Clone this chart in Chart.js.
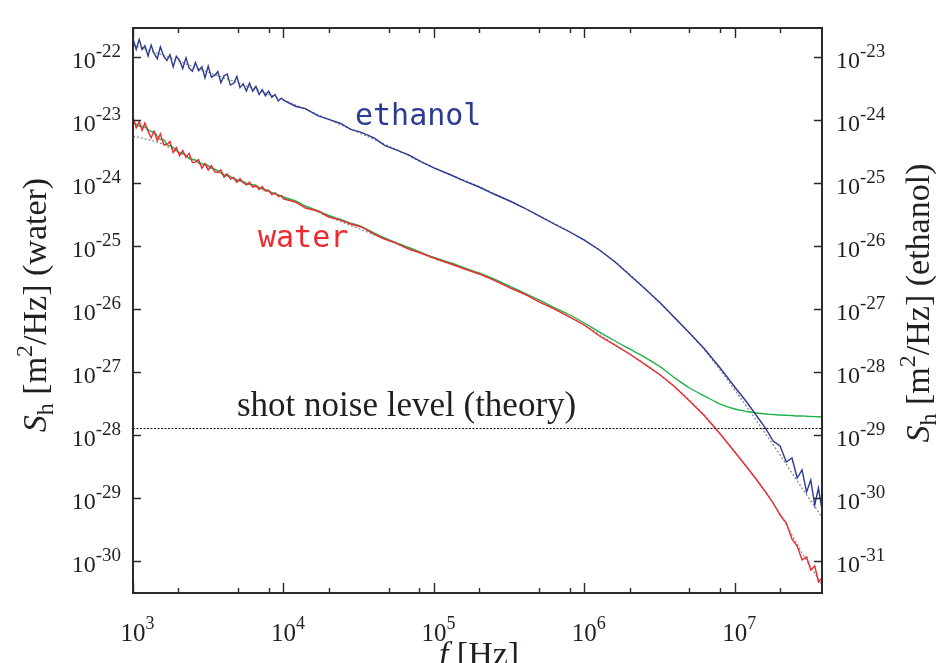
<!DOCTYPE html>
<html><head><meta charset="utf-8">
<script src="https://cdn.jsdelivr.net/npm/chart.js@4.4.1/dist/chart.umd.min.js"></script>
<style>html,body{margin:0;padding:0;background:#fff}#c{display:block}</style>
</head><body>
<canvas id="c" width="940" height="663"></canvas>
<script>
// ---- data (frequency in Hz, spectral density in m^2/Hz) ----
// measured spectra (ethanol, water red)
const freq = [1000,1050,1100,1150,1200,1260,1320,1380,1450,1520,1600,1680,1760,1850,1940,2040,2140,2250,2360,2480,2600,2730,2870,3010,3160,3320,3490,3660,3840,4030,4230,4440,4670,4900,5140,5400,5670,5950,6250,6560,6890,7230,7590,7970,8370,8790,9230,9690,
  1e4,1.2e4,1.4e4,1.7e4,2e4,2.4e4,2.8e4,3.3e4,4e4,4.7e4,5.6e4,6.8e4,8.2e4,
  1e5,1.3e5,1.6e5,2e5,2.5e5,3.2e5,4e5,5e5,6.3e5,8e5,
  1e6,1.26e6,1.6e6,2e6,2.5e6,3.2e6,4e6,5e6,6.3e6,8e6,
  1e7,1.2e7,1.4e7,1.6e7,1.8e7,2e7,2.2e7,2.4e7,2.6e7,2.8e7,3e7,3.2e7,3.4e7,3.6e7,3.8e7];

// ethanol (right axis)
const ethanol = [1.95e-23,1.34e-23,1.92e-23,1.33e-23,1.52e-23,1.05e-23,1.56e-23,1.15e-23,9.50e-24,1.46e-23,1.04e-23,8.90e-24,1.10e-23,7.04e-24,1.04e-23,8.96e-24,6.64e-24,9.82e-24,6.79e-24,6.02e-24,8.30e-24,6.15e-24,7.07e-24,4.71e-24,7.25e-24,4.83e-24,5.16e-24,5.95e-24,3.96e-24,5.09e-24,5.43e-24,3.62e-24,3.86e-24,4.95e-24,3.30e-24,3.79e-24,2.92e-24,3.89e-24,2.88e-24,3.45e-24,2.56e-24,3.06e-24,2.44e-24,2.90e-24,2.31e-24,2.56e-24,2.03e-24,2.25e-24,
  2.09e-24,1.67e-24,1.53e-24,1.17e-24,1.03e-24,8.88e-25,7.18e-25,6.42e-25,5.25e-25,4.00e-25,3.39e-25,2.82e-25,2.20e-25,
  1.75e-25,1.35e-25,1.08e-25,8.71e-26,6.74e-26,5.22e-26,4.04e-26,3.02e-26,2.25e-26,1.68e-26,
  1.25e-26,8.70e-27,5.61e-27,3.49e-27,2.17e-27,1.25e-27,7.23e-28,4.18e-28,2.33e-28,1.16e-28,
  5.80e-29,3.35e-29,2.01e-29,1.29e-29,8.04e-30,6.70e-30,3.73e-30,4.32e-30,2.08e-30,2.79e-30,1.25e-30,1.93e-30,7.75e-31,1.44e-30,6.45e-31];

// water, red (left axis)
const water = [1.13e-23,7.56e-24,9.52e-24,6.93e-24,9.08e-24,6.65e-24,5.28e-24,6.73e-24,4.75e-24,6.05e-24,4.12e-24,4.12e-24,4.60e-24,3.06e-24,3.68e-24,2.74e-24,3.30e-24,2.56e-24,2.98e-24,2.14e-24,2.16e-24,2.36e-24,1.73e-24,2.05e-24,1.62e-24,1.91e-24,1.51e-24,1.48e-24,1.63e-24,1.24e-24,1.41e-24,1.16e-24,1.24e-24,1.03e-24,1.18e-24,1.02e-24,9.40e-25,1.04e-24,8.65e-25,9.27e-25,7.95e-25,8.84e-25,7.52e-25,7.72e-25,6.60e-25,7.02e-25,6.22e-25,6.38e-25,
  5.62e-25,5.03e-25,4.04e-25,3.62e-25,2.91e-25,2.60e-25,2.25e-25,2.02e-25,1.56e-25,1.30e-25,1.12e-25,9.02e-26,7.79e-26,
  6.49e-26,5.21e-26,4.34e-26,3.62e-26,2.90e-26,2.17e-26,1.74e-26,1.30e-26,1.01e-26,7.50e-27,
  5.60e-27,3.74e-27,2.69e-27,1.94e-27,1.35e-27,8.99e-28,5.80e-28,3.47e-28,2.01e-28,1.04e-28,
  5.38e-29,3.11e-29,1.93e-29,1.25e-29,8.33e-30,5.37e-30,4.01e-30,2.23e-30,1.73e-30,1.04e-30,1.16e-30,7.19e-31,8.32e-31,4.63e-31,5.37e-31];

// water, green (left axis)
const freqGreen = [1000,1100,1200,1300,1400,1500,1600,1700,1800,2000,2200,2400,2600,2800,3000,3300,3600,4000,4400,4800,5300,5800,6400,7000,7700,8500,9300,
  1e4,1.2e4,1.4e4,1.7e4,2e4,2.4e4,2.8e4,3.3e4,4e4,4.7e4,5.6e4,6.8e4,8.2e4,
  1e5,1.3e5,1.6e5,2e5,2.5e5,3.2e5,4e5,5e5,6.3e5,8e5,
  1e6,1.26e6,1.6e6,2e6,2.5e6,3.2e6,4e6,5e6,6.3e6,8e6,
  1e7,1.2e7,1.4e7,1.6e7,1.8e7,2e7,2.2e7,2.4e7,2.6e7,2.8e7,3e7,3.2e7,3.4e7,3.6e7,3.8e7];
const waterGreen = [9.38e-24,8.11e-24,7.82e-24,6.75e-24,6.28e-24,5.04e-24,4.86e-24,4.05e-24,3.90e-24,3.13e-24,2.91e-24,2.42e-24,2.34e-24,2.02e-24,2.02e-24,1.75e-24,1.62e-24,1.35e-24,1.30e-24,1.12e-24,1.08e-24,9.72e-25,9.37e-25,8.40e-25,7.80e-25,7.00e-25,6.50e-25,
  6.04e-25,5.22e-25,4.35e-25,3.62e-25,3.07e-25,2.65e-25,2.33e-25,2.05e-25,1.62e-25,1.35e-25,1.14e-25,9.53e-26,7.94e-26,
  6.61e-26,5.40e-26,4.50e-26,3.75e-26,3.01e-26,2.29e-26,1.80e-26,1.40e-26,1.06e-26,8.07e-27,
  6.02e-27,4.33e-27,3.12e-27,2.33e-27,1.74e-27,1.21e-27,8.06e-28,5.59e-28,4.17e-28,3.11e-28,
  2.59e-28,2.37e-28,2.24e-28,2.16e-28,2.12e-28,2.08e-28,2.06e-28,2.04e-28,2.01e-28,2.01e-28,1.99e-28,1.97e-28,1.96e-28,1.95e-28,1.94e-28];

// fitted curves (gray dotted)
const fitFreq = [1e3,1.5e3,2e3,3e3,5e3,1e4,2e4,5e4,1e5,2e5,5e5,1e6,1.6e6,2.5e6,4e6,6.3e6,1e7,1.4e7,2e7,2.8e7,3.8e7];
const ethanolFit = [1.57e-23,1.13e-23,8.73e-24,6.06e-24,3.91e-24,2.10e-24,1.03e-24,3.90e-25,1.76e-25,8.81e-26,3.04e-26,1.25e-26,5.67e-27,2.17e-27,7.23e-28,2.24e-28,5.20e-29,1.67e-29,4.82e-30,1.44e-30,4.99e-31];
const waterFit = [5.62e-24,4.35e-24,3.13e-24,1.95e-24,1.12e-24,5.95e-25,2.96e-25,1.23e-25,6.39e-26,3.64e-26,1.32e-26,5.56e-27,2.69e-27,1.36e-27,5.80e-28,2.04e-28,5.38e-29,1.93e-29,5.58e-30,1.34e-30,4.15e-31];

const shotNoise = 1.27e-28;

const xRange = [1e3, 3.8e7];
const yLeftRange = [3.1e-31, 2.92e-22];
const yRightRange = [3.1e-32, 2.92e-23];

const xTickExps = [3,4,5,6,7];
const xMinorMult = [2,5,8];
const leftTickExps = [-22,-23,-24,-25,-26,-27,-28,-29,-30];
const rightTickExps = [-23,-24,-25,-26,-27,-28,-29,-30,-31];

// ---- drawing ----
const SERIF = '"Liberation Serif","Times New Roman","DejaVu Serif",serif';
const pts = (xs, ys) => xs.map((x, i) => ({x, y: ys[i]}));

function fontOf(p){ return (p.italic ? 'italic ' : '') + p.size + 'px ' + SERIF; }
function drawRich(ctx, parts, x, y, align){
  let w = 0;
  for (const p of parts){ ctx.font = fontOf(p); p._w = ctx.measureText(p.t).width; w += p._w; }
  let cx = align === 'center' ? x - w/2 : (align === 'right' ? x - w : x);
  ctx.textAlign = 'left'; ctx.textBaseline = 'alphabetic';
  for (const p of parts){ ctx.font = fontOf(p); ctx.fillText(p.t, cx, y + (p.dy||0)); cx += p._w; }
}

const deco = {
  id: 'deco',
  afterDraw(chart){
    const ctx = chart.ctx, a = chart.chartArea, sx = chart.scales.x, sy = chart.scales.y, sy2 = chart.scales.y2;
    ctx.save();
    ctx.strokeStyle = '#2a2a2a';
    ctx.lineWidth = 1.4;
    ctx.beginPath();
    for (const e of xTickExps){
      const px = Math.round(sx.getPixelForValue(Math.pow(10,e))) + 0.5;
      ctx.moveTo(px, a.bottom); ctx.lineTo(px, a.bottom - 10);
      ctx.moveTo(px, a.top); ctx.lineTo(px, a.top + 10);
      for (const m of xMinorMult){
        const v = m * Math.pow(10,e);
        if (v >= xRange[1]) continue;
        const q = Math.round(sx.getPixelForValue(v)) + 0.5;
        ctx.moveTo(q, a.bottom); ctx.lineTo(q, a.bottom - 5);
        ctx.moveTo(q, a.top); ctx.lineTo(q, a.top + 5);
      }
    }
    for (const e of leftTickExps){
      const py = Math.round(sy.getPixelForValue(Math.pow(10,e))) + 0.5;
      ctx.moveTo(a.left, py); ctx.lineTo(a.left + 8, py);
    }
    for (const e of rightTickExps){
      const py = Math.round(sy2.getPixelForValue(Math.pow(10,e))) + 0.5;
      ctx.moveTo(a.right, py); ctx.lineTo(a.right - 8, py);
    }
    ctx.stroke();
    ctx.lineWidth = 2;
    ctx.strokeRect(a.left, a.top, a.right - a.left, a.bottom - a.top);

    ctx.fillStyle = '#231f20';
    for (const e of xTickExps){
      const px = sx.getPixelForValue(Math.pow(10,e));
      ctx.font = '25px ' + SERIF;
      const w10 = ctx.measureText('10').width;
      drawRich(ctx, [{t:'10', size:25}, {t:String(e), size:18, dy:-12}], px - w10/2, 641, 'left');
    }
    for (const e of leftTickExps){
      const py = sy.getPixelForValue(Math.pow(10,e));
      drawRich(ctx, [{t:'10', size:24}, {t:String(e), size:19, dy:-11}], 121, py + 11, 'right');
    }
    for (const e of rightTickExps){
      const py = sy2.getPixelForValue(Math.pow(10,e));
      drawRich(ctx, [{t:'10', size:24}, {t:String(e), size:19, dy:-11}], 836, py + 11, 'left');
    }
    drawRich(ctx, [{t:'f', size:34, italic:true}, {t:' [Hz]', size:34}], 479, 665, 'center');
    const yt = (name) => [{t:'S', size:34, italic:true}, {t:'h', size:24, dy:7}, {t:' [m', size:34}, {t:'2', size:24, dy:-14}, {t:'/Hz] (' + name + ')', size:34}];
    ctx.save(); ctx.translate(46, 305); ctx.rotate(-Math.PI/2); drawRich(ctx, yt('water'), 0, 0, 'center'); ctx.restore();
    ctx.save(); ctx.translate(929, 303); ctx.rotate(-Math.PI/2); drawRich(ctx, yt('ethanol'), 0, 0, 'center'); ctx.restore();
    drawRich(ctx, [{t:'shot noise level (theory)', size:35}], 237, 416, 'left');
    ctx.font = '30px "DejaVu Sans Mono", monospace';
    ctx.textAlign = 'left';
    ctx.fillStyle = '#2b3a93';
    ctx.fillText('ethanol', 355, 125);
    ctx.fillStyle = '#ee2a2f';
    ctx.fillText('water', 258, 247);
    ctx.restore();
  }
};

new Chart(document.getElementById('c'), {
  type: 'line',
  data: {
    datasets: [
      {label:'shot noise', data:[{x:xRange[0], y:shotNoise},{x:xRange[1], y:shotNoise}], yAxisID:'y', borderColor:'#111', borderWidth:1, borderDash:[2,1.5], order:0},
      {label:'ethanol', data:pts(freq, ethanol), yAxisID:'y2', borderColor:'#2b3a93', borderWidth:1.4, order:1},
      {label:'water', data:pts(freq, water), yAxisID:'y', borderColor:'#ee2a2f', borderWidth:1.4, order:2},
      {label:'water (green)', data:pts(freqGreen, waterGreen), yAxisID:'y', borderColor:'#1fb24a', borderWidth:1.4, cubicInterpolationMode:'monotone', order:3},
      {label:'ethanol fit', data:pts(fitFreq, ethanolFit), yAxisID:'y2', borderColor:'#8a8a8a', borderWidth:1.3, borderDash:[2,2], cubicInterpolationMode:'monotone', order:4},
      {label:'water fit', data:pts(fitFreq, waterFit), yAxisID:'y', borderColor:'#8a8a8a', borderWidth:1.3, borderDash:[2,2], cubicInterpolationMode:'monotone', order:5}
    ]
  },
  options: {
    responsive: false,
    animation: false,
    elements: { point: { radius: 0 }, line: { tension: 0, fill: false } },
    layout: { padding: { left: 133, right: 118, top: 28, bottom: 70 } },
    plugins: { legend: { display: false }, tooltip: { enabled: false } },
    scales: {
      x: { type: 'logarithmic', min: xRange[0], max: xRange[1], display: false },
      y: { type: 'logarithmic', position: 'left', min: yLeftRange[0], max: yLeftRange[1], display: false },
      y2: { type: 'logarithmic', position: 'right', min: yRightRange[0], max: yRightRange[1], display: false }
    }
  },
  plugins: [deco]
});
</script>
</body></html>
